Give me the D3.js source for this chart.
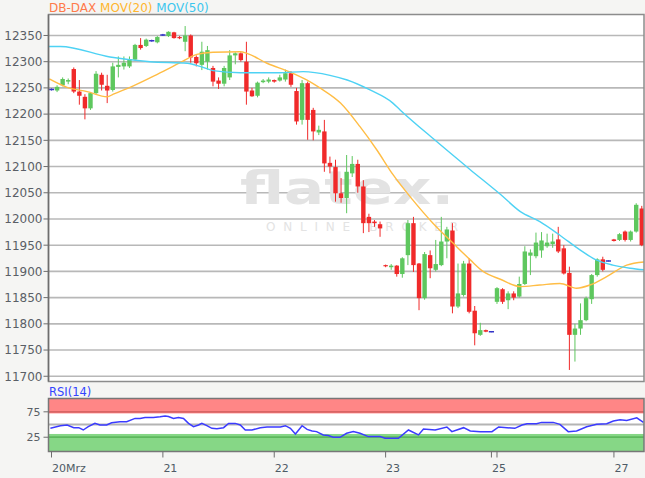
<!DOCTYPE html>
<html><head><meta charset="utf-8">
<script src="https://cdn.jsdelivr.net/npm/d3@7"></script>
<style>
html,body{margin:0;padding:0;background:#f5f5f3;}
svg{display:block;}
text{font-family:"DejaVu Sans",Verdana,sans-serif;}
</style></head><body>
<svg id="c" width="645" height="478"></svg>
<script>
// ---- data ----
const opens  = [12247,12245,12255,12262,12286,12243,12233,12211,12240,12275,12254,12246,12290,12291,12291,12304,12332,12330,12340,12337,12351,12349,12356,12347,12338,12350,12309,12294,12300,12288,12264,12258,12270,12312,12316,12300,12245,12235,12261,12262,12265,12264,12266,12278,12244,12189,12259,12208,12165,12167,12107,12099,12049,12040,12087,12105,12062,12004,11995,11990,11912,11908,11911,11895,11931,11992,11915,11849,11931,11903,11912,11957,11978,11833,11855,11915,11825,11779,11788,11785,11842,11866,11845,11858,11852,11876,11930,11929,11940,11948,11952,11961,11944,11897,11779,11791,11807,11847,11893,11923,11920,11961,11960,11976,11960,11976,12020];
const highs  = [12249,12255,12270,12268,12289,12265,12238,12242,12282,12279,12275,12298,12310,12310,12310,12334,12345,12344,12342,12349,12353,12358,12357,12349,12368,12352,12312,12338,12330,12292,12270,12292,12322,12318,12318,12338,12250,12262,12267,12270,12266,12275,12285,12282,12250,12265,12262,12212,12178,12189,12119,12113,12078,12122,12120,12113,12074,12010,11998,11995,11913,11914,11912,11927,11998,12004,11916,11937,11940,11960,12004,11985,11992,11915,11920,11925,11834,11802,11789,11786,11870,11868,11862,11862,11890,11948,11942,11974,11975,11972,11972,11985,11950,11909,11800,11839,11852,11895,11925,11928,11921,11962,11973,11978,11978,12030,12025];
const lows   = [12245,12242,12253,12257,12240,12218,12190,12208,12237,12245,12221,12243,12270,12285,12288,12302,12323,12328,12338,12335,12349,12347,12344,12343,12320,12298,12291,12284,12285,12253,12248,12253,12265,12295,12300,12218,12233,12232,12259,12259,12260,12262,12262,12252,12180,12180,12151,12150,12160,12090,12087,12033,12031,12011,12080,12050,11973,11975,11985,11966,11908,11903,11890,11888,11912,11899,11826,11846,11887,11900,11910,11925,11820,11830,11852,11820,11759,11777,11784,11784,11838,11838,11828,11845,11850,11874,11893,11925,11926,11945,11945,11935,11894,11712,11728,11779,11805,11838,11890,11900,11919,11957,11958,11957,11957,11974,11948];
const closes = [12247,12252,12267,12265,12243,12235,12211,12240,12277,12256,12245,12291,12294,12298,12305,12332,12326,12342,12340,12347,12351,12357,12345,12345,12350,12308,12297,12319,12322,12262,12258,12288,12312,12316,12303,12243,12234,12260,12264,12266,12262,12270,12278,12256,12186,12259,12189,12167,12170,12106,12100,12049,12040,12090,12105,12062,11992,11992,11992,11982,11910,11911,11895,11925,11992,11912,11849,11933,11906,11914,11957,11980,11833,11858,11915,11823,11782,11788,11785,11785,11868,11842,11858,11850,11876,11938,11936,11955,11959,11955,11957,11938,11896,11779,11791,11807,11849,11893,11923,11903,11920,11958,11971,11960,11976,12027,11950];

const ma20Idx = [-0.4,2.8,6.4,10,11.1,14.7,19,23.1,26.1,29,33.9,35.1,38.7,42.9,45.9,48.2,51.9,55.4,58.4,61.3,64.9,68.5,72.1,75.2,77.5,80.6,84.2,87.7,91.3,94.3,96.7,99.7,103.3,106.4];
const ma20Val = [12267,12251,12243,12233,12238,12254,12276,12298,12314,12318,12319,12316,12297,12280,12265,12250,12221,12176,12132,12085,12036,11992,11954,11922,11900,11885,11871,11874,11877,11868,11874,11890,11912,11918];

const ma50Idx = [-0.6,1.6,10.5,17.7,24.4,26.7,29,33.9,41,45.2,50,53.1,57.2,61.3,62.6,68.9,75.2,80.6,84.2,87.7,91.3,94.9,97.6,100.8,103.9,106.4];
const ma50Val = [12329,12329,12309,12300,12297,12291,12283,12279,12279,12281,12274,12265,12246,12221,12208,12150,12094,12047,12014,11995,11969,11941,11923,11912,11906,11903];

const rsiIdx = [-0.2,1.6,2.8,4,4.9,5.7,6.6,7.8,8.7,9.9,10.8,12.3,13.5,15,15.9,16.8,18.3,19.5,20.4,21,21.9,22.8,23.7,24.6,25.5,26.4,27,27.9,28.8,29.7,30.9,31.8,33,33.9,34.8,36,37.5,38.7,39.9,41.1,42,42.9,43.8,45,45.9,46.8,47.6,48.8,49.7,50.6,51.8,53,54.2,55.4,56.9,59,59.9,62.3,64.1,65.9,66.8,68.9,71,71.9,74,75.2,77,79.1,80.3,81.8,83.2,84.5,85.4,87.1,88,90.1,91.3,92.8,94.3,96.1,97.9,99.7,100.9,102.1,103.3,105.1,106.3];
const rsiVal = [42.5,47.7,49,43.8,43.8,39.2,45.7,52.2,49,49,53.5,55.5,55.5,62,62,64,64,65.3,66.6,65.9,62,64,62,52.2,45.7,49,52.2,47.7,42.5,41.8,43.8,52.2,52.2,49,39.2,39.2,43.8,45.1,45.1,45.1,47.7,42.5,31.4,47.7,40.5,37.3,36,29.5,28.2,24.9,24.9,32.7,36,32.7,26.2,26.2,22.9,22.9,39.2,29.5,41.2,39.2,45.1,36,43.8,37.3,36,36,45.1,43.8,42.5,49,51.6,51.6,54.2,54.2,50.3,36,37.3,45.7,50.3,51.6,56.8,59.4,58.1,63.3,54.2];

const yTicks = [11700,11750,11800,11850,11900,11950,12000,12050,12100,12150,12200,12250,12300,12350];
const rsiTicks = [25,75];
const rsiLines = [75,50,25];
const xTickIdx = [0,20,40,60,79,80,101];
const xTickLabels = ["20Mrz","21","22","23","25","","27"];
const legendNames = ["DB-DAX","MOV(20)","MOV(50)"];
const legendColors = ["#ff7a4a","#ffb62e","#3cc6ee"];

// ---- layout ----
const L = 48.5, R = 644, T = 14.5, B = 381.5, RT = 398.5, RB = 451.5;
const svg = d3.select("#c");
const x = d3.scaleLinear().domain([-0.54, 106.4]).range([L, R]);
const y = d3.scaleLinear().domain([11690, 12390]).range([B, T]);
const yr = d3.scaleLinear().domain([-3.1, 101.2]).range([RB, RT]);

const defs = svg.append("defs");
defs.append("clipPath").attr("id","cm").append("rect").attr("x",L).attr("y",T).attr("width",R-L).attr("height",B-T);
defs.append("clipPath").attr("id","cr").append("rect").attr("x",L).attr("y",RT).attr("width",R-L).attr("height",RB-RT);

// main panel background
svg.append("rect").attr("x",L).attr("y",T).attr("width",R-L).attr("height",B-T).attr("fill","#fff");

// grid
svg.append("g").selectAll("line").data(yTicks).join("line")
  .attr("x1",L).attr("x2",R).attr("y1",d=>y(d)).attr("y2",d=>y(d))
  .attr("stroke","#b8b8b8").attr("stroke-width",1.6);

// watermark
const wm = svg.append("g").attr("clip-path","url(#cm)");
wm.append("text").attr("x",240).attr("y",204).attr("font-size",46).attr("font-weight","bold")
  .attr("fill","#e3e3e3").attr("textLength",214).attr("lengthAdjust","spacingAndGlyphs").text("flatex.");
wm.append("text").attr("x",266).attr("y",231).attr("font-size",12)
  .attr("fill","#e3e3e3").attr("textLength",192).attr("lengthAdjust","spacing").text("ONLINE BROKER");

// candles
const cg = svg.append("g").attr("clip-path","url(#cm)");
const idx = d3.range(opens.length);
const bw = 4.4;
const colorOf = i => closes[i] === opens[i] ? "#3434c8" : (closes[i] > opens[i] ? "#5ec75e" : "#f02a2a");
cg.selectAll("line.w").data(idx).join("line").attr("class","w")
  .attr("x1",i=>x(i)).attr("x2",i=>x(i)).attr("y1",i=>y(highs[i])).attr("y2",i=>y(lows[i]))
  .attr("stroke",colorOf).attr("stroke-width",1);
cg.selectAll("rect.b").data(idx.filter(i=>closes[i]!==opens[i])).join("rect").attr("class","b")
  .attr("x",i=>x(i)-bw/2).attr("width",bw)
  .attr("y",i=>y(Math.max(opens[i],closes[i])))
  .attr("height",i=>Math.max(1.2, Math.abs(y(opens[i])-y(closes[i]))))
  .attr("fill",colorOf);
cg.selectAll("line.d").data(idx.filter(i=>closes[i]===opens[i])).join("line").attr("class","d")
  .attr("x1",i=>x(i)-2.6).attr("x2",i=>x(i)+2.6).attr("y1",i=>y(closes[i])).attr("y2",i=>y(closes[i]))
  .attr("stroke","#3434c8").attr("stroke-width",1.5);

// moving averages
const ln = d3.line().curve(d3.curveMonotoneX);
cg.append("path").attr("d", ln(ma20Idx.map((d,k)=>[x(d), y(ma20Val[k])])))
  .attr("fill","none").attr("stroke","#ffbd45").attr("stroke-width",1.4);
cg.append("path").attr("d", ln(ma50Idx.map((d,k)=>[x(d), y(ma50Val[k])])))
  .attr("fill","none").attr("stroke","#4ed2f4").attr("stroke-width",1.4);

// frame & y axis
svg.append("rect").attr("x",L).attr("y",T).attr("width",R-L).attr("height",B-T)
  .attr("fill","none").attr("stroke","#8c8c8c").attr("stroke-width",1.5);
svg.append("line").attr("x1",L).attr("x2",L).attr("y1",T).attr("y2",B).attr("stroke","#6e6e6e").attr("stroke-width",1.5);
const ya = svg.append("g");
ya.selectAll("line").data(yTicks).join("line")
  .attr("x1",L-5).attr("x2",L).attr("y1",d=>y(d)).attr("y2",d=>y(d)).attr("stroke","#6e6e6e");
ya.selectAll("text").data(yTicks).join("text")
  .attr("x",L-6).attr("y",d=>y(d)).attr("dy","0.36em").attr("text-anchor","end")
  .attr("font-size",12).attr("fill","#5a5f66").text(d=>d);

// legend
const lg = svg.append("text").attr("x",49).attr("y",12).attr("font-size",12);
legendNames.forEach((n,k)=>{ lg.append("tspan").attr("fill",legendColors[k]).text((k? " ":"")+n); });

// RSI panel
svg.append("rect").attr("x",L).attr("y",RT).attr("width",R-L).attr("height",RB-RT).attr("fill","#fff");
const rg = svg.append("g").attr("clip-path","url(#cr)");
rg.append("rect").attr("x",L).attr("width",R-L).attr("y",yr(101.2)).attr("height",yr(71.9)-yr(101.2)).attr("fill","#ff8686");
rg.append("rect").attr("x",L).attr("width",R-L).attr("y",yr(31.4)).attr("height",yr(-3.1)-yr(31.4)).attr("fill","#86d786");
rg.selectAll("line.g").data(rsiLines).join("line").attr("class","g")
  .attr("x1",L).attr("x2",R).attr("y1",d=>yr(d)).attr("y2",d=>yr(d))
  .attr("stroke",d=>d===75?"#d86464":(d===25?"#5cb85c":"#b4b4b4")).attr("stroke-width",1.8);
rg.append("path").attr("d", d3.line()(rsiIdx.map((d,k)=>[x(d), yr(rsiVal[k])])))
  .attr("fill","none").attr("stroke","#3b3bff").attr("stroke-width",1.5);
svg.append("rect").attr("x",L).attr("y",RT).attr("width",R-L).attr("height",RB-RT)
  .attr("fill","none").attr("stroke","#777").attr("stroke-width",1.5);
svg.append("text").attr("x",49).attr("y",396).attr("font-size",11.5).attr("fill","#3344ff").text("RSI(14)");
const ra = svg.append("g");
ra.selectAll("line").data(rsiTicks).join("line")
  .attr("x1",L-5).attr("x2",L).attr("y1",d=>yr(d)).attr("y2",d=>yr(d)).attr("stroke","#6e6e6e");
ra.selectAll("text").data(rsiTicks).join("text")
  .attr("x",L-8).attr("y",d=>yr(d)).attr("dy","0.36em").attr("text-anchor","end")
  .attr("font-size",11).attr("fill","#5a5f66").text(d=>d);

// x axis
const xa = svg.append("g");
xa.selectAll("line").data(xTickIdx).join("line")
  .attr("x1",i=>x(i)).attr("x2",i=>x(i)).attr("y1",RB).attr("y2",RB+6).attr("stroke","#6e6e6e");
xa.selectAll("text").data(xTickIdx).join("text")
  .attr("x",i=>x(i)+0.5).attr("y",472).attr("font-size",11).attr("fill","#4e5b66")
  .text((i,k)=>xTickLabels[k]);
</script>
</body></html>
